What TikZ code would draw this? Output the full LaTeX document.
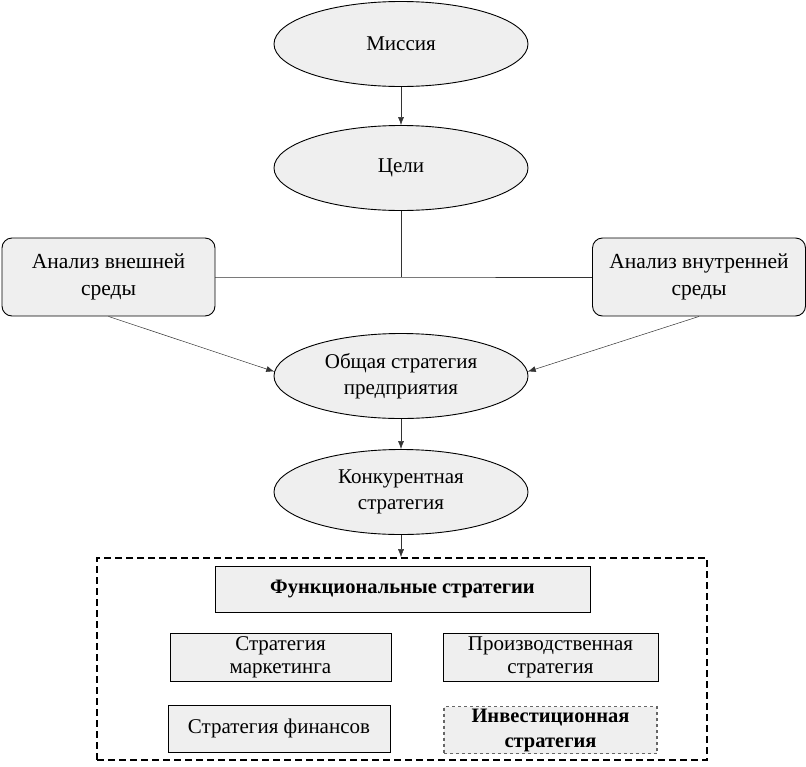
\documentclass[tikz,border=0pt]{standalone}
\usepackage{fontspec}
\setmainfont{Liberation Serif}
\usetikzlibrary{shapes.geometric,arrows.meta}
\definecolor{fillg}{HTML}{EFEFEF}
\tikzset{
  ell/.style={ellipse,draw=black,line width=0.9pt,fill=fillg,minimum width=254pt,minimum height=85pt,inner sep=0pt,align=center,font=\fontsize{21}{26}\selectfont},
  rbox/.style={rectangle,rounded corners=10pt,draw=black,line width=0.9pt,fill=fillg,minimum width=213pt,minimum height=78pt,inner sep=0pt,align=center,font=\fontsize{21.5}{27}\selectfont},
  sbox/.style={rectangle,draw=black,line width=0.9pt,fill=fillg,inner sep=0pt,align=center,font=\fontsize{21}{23}\selectfont},
  conn/.style={line width=0.5pt,draw=black!80},
  arr/.style={conn,-{Latex[length=8pt,width=6pt]}}
}
\begin{document}
\begin{tikzpicture}[x=1pt,y=-1pt]
\useasboundingbox (0,0) rectangle (806,766);
\node[ell] (m) at (401,44) {Миссия};
\node[ell] (c) at (401,168) {Цели};
\node[rbox] (lb) at (108.5,277) {Анализ внешней\\среды};
\node[rbox] (rb) at (699,277) {Анализ внутренней\\среды};
\node[ell] (g) at (401,376) {Общая стратегия\\предприятия};
\node[ell] (k) at (401,492) {Конкурентная\\стратегия};
\node[rectangle,draw=black,line width=1.6pt,dash pattern=on 7pt off 4pt,minimum width=610pt,minimum height=202pt,inner sep=0pt] (fb) at (402,659) {};
\node[sbox,minimum width=375pt,minimum height=46pt,font=\fontsize{20.5}{23}\selectfont\bfseries] (fs) at (402.5,589) {Функциональные стратегии};
\node[sbox,minimum width=221pt,minimum height=48pt] (sm) at (280.5,657) {Стратегия\\маркетинга};
\node[sbox,minimum width=215pt,minimum height=48pt] (ps) at (550.5,657) {Производственная\\стратегия};
\node[sbox,minimum width=222pt,minimum height=47pt] (sf) at (279,728.5) {Стратегия финансов};
\node[sbox,draw=black!60,dashed,line width=1.2pt,minimum width=213pt,minimum height=47pt,font=\fontsize{20.5}{25}\selectfont\bfseries] (is) at (550.5,730) {Инвестиционная\\стратегия};
\coordinate (j) at (401,277);
\draw[arr] (m.south) -- (c.north);
\draw[conn] (c.south) -- (j);
\draw[conn] (lb.east) -- (j) -- (rb.west);
\draw[arr] (lb.south) -- (g.178);
\draw[arr] (rb.south) -- (g.2);
\draw[arr] (g.south) -- (k.north);
\draw[arr] (k.south) -- (fb.north -| k.south);
\end{tikzpicture}
\end{document}
